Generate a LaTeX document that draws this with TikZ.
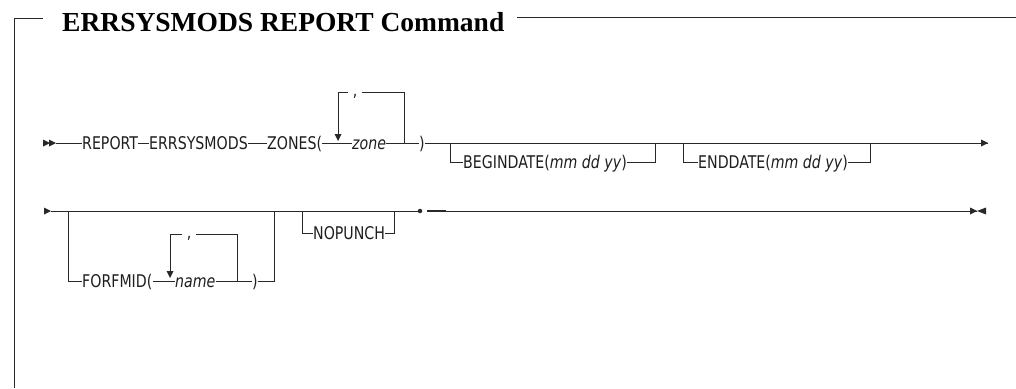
\documentclass[tikz,border=0pt]{standalone}
\usepackage{fontspec}
\usepackage{xcolor}
\usetikzlibrary{math}
\newfontfamily\railfont{DejaVu Sans Condensed}[ItalicFont={DejaVu Sans Condensed Oblique}, FakeStretch=0.9]
\newfontfamily\titlefont{Liberation Serif}
\definecolor{qline}{RGB}{40,40,40}
\definecolor{qtext}{RGB}{30,30,30}

\tikzset{
  rail/.style={line width=0.8pt, color=qline},
  word/.style={font=\railfont\fontsize{17.5}{17.5}\selectfont, text=qtext, inner sep=0pt,
               text height=12.6pt, text depth=0pt, anchor=west},
  sep/.style={font=\railfont\fontsize{17.5}{17.5}\selectfont, text=qtext, inner ysep=0pt,
              inner xsep=4.5pt, anchor=base},
}
\newcommand\tipright[1]{\fill[qline] (#1) -- ++(-7,-3.5) -- ++(0,7) -- cycle;}
\newcommand\tipleft[1]{\fill[qline] (#1) -- ++(9,-3.5) -- ++(0,7) -- cycle;}
\newcommand\tipdown[1]{\fill[qline] (#1) -- ++(-3.5,-7) -- ++(7,0) -- cycle;}

\begin{document}
\begin{tikzpicture}[x=1pt,y=-1pt]

\tikzmath{
\yA = 143; % first rail
\yB = 211; % second rail
\yT = 92;  % repeat loop, row 1
\yS = 234; % repeat loop, row 2
}

\useasboundingbox (0,0) rectangle (1016,388);

%frame and title:
\node[font=\titlefont\bfseries\fontsize{27.5}{27.5}\selectfont, anchor=base west, inner sep=0pt] (title) at (62,31) {ERRSYSMODS REPORT Command};
\draw[line width=1pt, color=qline] (14,388) -- (14,18) -- (43,18);
\draw[line width=1pt, color=qline] (517,17) -- (1016,17);

%row 1:
\coordinate (startA) at (56,\yA);
\coordinate (endA) at (988,\yA);
\node[word] (report) at (82,\yA) {REPORT};
\node[word] (errsys) at (149,\yA) {ERRSYSMODS};
\node[word] (zones) at (267,\yA) {ZONES(};
\node[word] (zone) at (352,\yA) {\itshape zone};
\node[word] (zclose) at (419,\yA) {)};
\node[sep] (comA) at (355,96) {,};
\node[word] (begin) at (463,162) {BEGINDATE(\textit{mm dd yy})};
\node[word] (enddate) at (698,162) {ENDDATE(\textit{mm dd yy})};

\tipright{50,\yA}
\tipright{startA}
\draw[rail] (startA) -- (report.west);
\draw[rail] (report.east) -- (errsys.west);
\draw[rail] (errsys.east) -- (zones.west);
\draw[rail] (zones.east) -- (zone.west);
\draw[rail] (zone.east) -- (zclose.west);
\draw[rail] (zclose.east) -- (endA);
\tipright{endA}
% repeat loop
\draw[rail] (404,\yA) -- (404,\yT) -- (comA.east |- 0,\yT);
\draw[rail] (comA.west |- 0,\yT) -- (338,\yT) -- (338,134);
\tipdown{338,141}
% optional dates
\draw[rail] (450,\yA) |- (begin.west);
\draw[rail] (begin.east) -| (655,\yA);
\draw[rail] (683,\yA) |- (enddate.west);
\draw[rail] (enddate.east) -| (870,\yA);

%row 2:
\coordinate (startB) at (51,\yB);
\node[word] (forfmid) at (82,281) {FORFMID(};
\node[word] (name) at (175,281) {\itshape name};
\node[word] (fclose) at (252,281) {)};
\node[sep] (comB) at (189,238) {,};
\node[word] (nopunch) at (313,233) {NOPUNCH};
\node[circle, fill=qline, inner sep=0pt, minimum size=4.5pt] (dot) at (420,\yB) {};
\coordinate (endB) at (977,\yB);

\tipright{startB}
\draw[rail] (startB) -- (dot.west);
\draw[line width=1.5pt, color=qline] (427,\yB) -- (446,\yB);
\draw[rail] (446,\yB) -- (endB);
\tipright{endB}
\tipleft{endB}
% optional FORFMID
\draw[rail] (68,\yB) |- (forfmid.west);
\draw[rail] (forfmid.east) -- (name.west);
\draw[rail] (name.east) -- (fclose.west);
\draw[rail] (fclose.east) -| (274,\yB);
\draw[rail] (237,281) -- (237,\yS) -- (comB.east |- 0,\yS);
\draw[rail] (comB.west |- 0,\yS) -- (170,\yS) -- (170,271);
\tipdown{170,278}
% optional NOPUNCH
\draw[rail] (302,\yB) |- (nopunch.west);
\draw[rail] (nopunch.east) -| (394,\yB);

\end{tikzpicture}
\end{document}
